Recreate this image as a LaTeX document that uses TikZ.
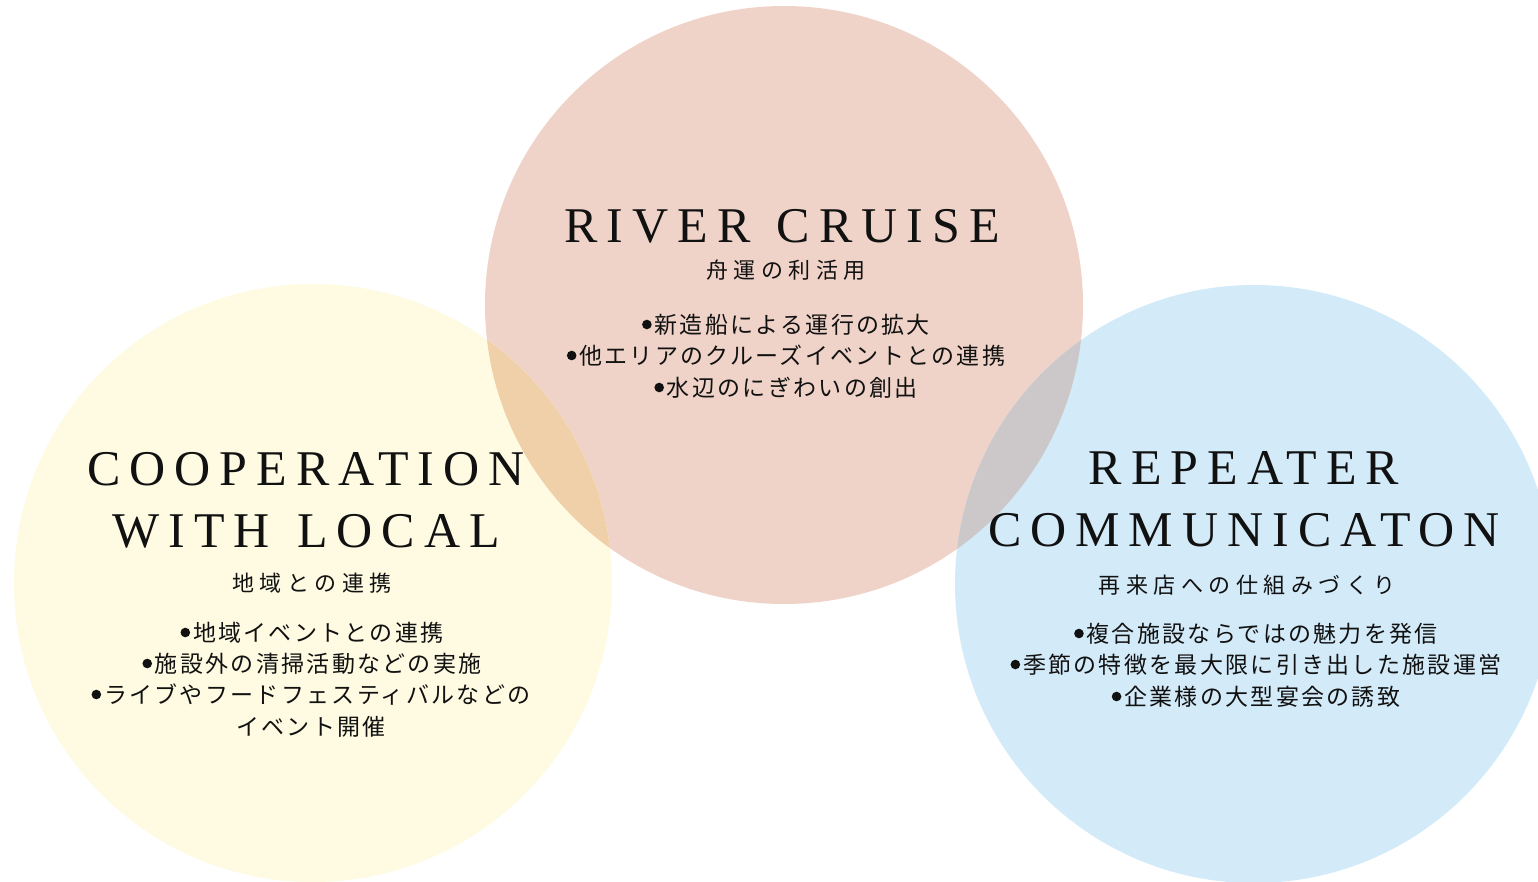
\documentclass[tikz,border=0pt]{standalone}
\usepackage{fontspec}
\setmainfont{Liberation Serif}
\newfontfamily\titlefont{Liberation Serif}[LetterSpace=18]
\newfontfamily\jpsub{Noto Sans CJK JP}[LetterSpace=25]
\newfontfamily\jpbul{Noto Sans CJK JP}[LetterSpace=10]
\definecolor{pinkc}{HTML}{EFD3C8}
\definecolor{yellowc}{HTML}{FEFBE2}
\definecolor{bluec}{HTML}{D3EAF8}
\definecolor{pyc}{HTML}{F0D0A8}
\definecolor{pbc}{HTML}{CCC7C8}
\definecolor{ink}{HTML}{111111}
\newcommand\bdot{\begin{tikzpicture}[baseline=0pt]\useasboundingbox (0pt,0pt) rectangle (12.5pt,1pt);\fill[ink] (4.8pt,8.5pt) circle (4.8pt);\end{tikzpicture}}
\tikzset{
  txt/.style={inner sep=0pt, anchor=base, text=ink},
  ttl/.style={txt, font=\titlefont\fontsize{50}{50}\selectfont},
  sub/.style={txt, font=\jpsub\fontsize{22}{22}\selectfont},
  bul/.style={txt, font=\jpbul\fontsize{23}{23}\selectfont},
}
\begin{document}
\begin{tikzpicture}[x=1pt,y=-1pt]
\useasboundingbox (0,0) rectangle (1538,881);
\fill[white] (0,0) rectangle (1538,881);
\coordinate (P) at (784,305);
\coordinate (Y) at (313,583);
\coordinate (B) at (1254,584);
\fill[pinkc] (P) circle (299);
\fill[yellowc] (Y) circle (299);
\fill[bluec] (B) circle (299);
\begin{scope}
  \clip (P) circle (299);
  \fill[pyc] (Y) circle (299);
  \fill[pbc] (B) circle (299);
\end{scope}
% top circle
\node[ttl] (t1) at (782,242) {RIVER\hspace{5pt} CRUISE};
\node[sub] (s1) at (786,278) {舟運の利活用};
\node[bul] (b11) at (786,333) {\bdot 新造船による運行の拡大};
\node[bul] (b12) at (786,364) {\bdot 他エリアのクルーズイベントとの連携};
\node[bul] (b13) at (786,396) {\bdot 水辺のにぎわいの創出};
% left circle
\node[ttl] (t2) at (306,485) {COOPERATION};
\node[ttl] (t3) at (306,547) {WITH\hspace{6pt} LOCAL};
\node[sub] (s2) at (312,591) {地域との連携};
\node[bul] (b21) at (312,641) {\bdot 地域イベントとの連携};
\node[bul] (b22) at (312,672) {\bdot 施設外の清掃活動などの実施};
\node[bul] (b23) at (311,703) {\bdot ライブやフードフェスティバルなどの};
\node[bul] (b24) at (311,735) {イベント開催};
% right circle
\node[ttl] (t4) at (1244,484) {REPEATER};
\node[ttl] (t5) at (1244,546) {COMMUNICATON};
\node[sub] (s3) at (1247,593) {再来店への仕組みづくり};
\node[bul] (b31) at (1256,642) {\bdot 複合施設ならではの魅力を発信};
\node[bul] (b32) at (1256,673) {\bdot 季節の特徴を最大限に引き出した施設運営};
\node[bul] (b33) at (1256,705) {\bdot 企業様の大型宴会の誘致};
\end{tikzpicture}
\end{document}
